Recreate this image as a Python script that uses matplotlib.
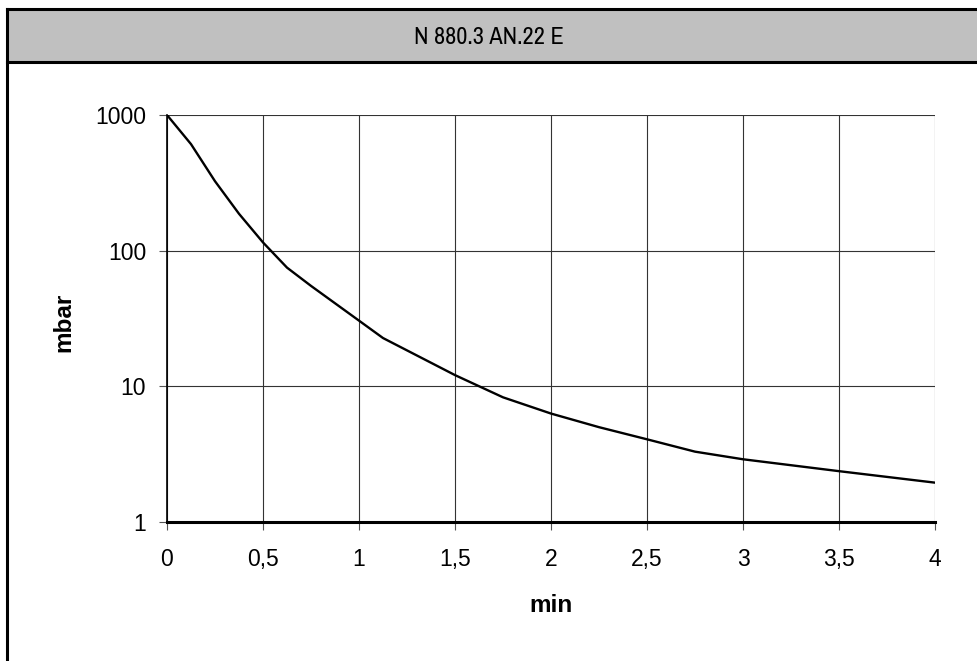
import matplotlib
matplotlib.use("Agg")
import matplotlib.pyplot as plt
from matplotlib.patches import Rectangle
from matplotlib.lines import Line2D
from matplotlib.ticker import FixedLocator, FixedFormatter, NullLocator

# pump-down curve
t_min = [0, 0.125, 0.25, 0.375, 0.5, 0.625, 0.75, 1.0, 1.125, 1.5, 1.75, 2.0, 2.25, 2.5, 2.75, 3.0, 3.5, 4.0]
p_mbar = [1000, 610, 325, 187, 115, 75, 55, 30.5, 22.7, 12.1, 8.3, 6.3, 5.0, 4.07, 3.3, 2.9, 2.37, 1.95]

xticks = [0, 0.5, 1, 1.5, 2, 2.5, 3, 3.5, 4]
xlabels = ["0", "0,5", "1", "1,5", "2", "2,5", "3", "3,5", "4"]
yticks = [1, 10, 100, 1000]
ylabels = ["1", "10", "100", "1000"]

title = "N 880.3 AN.22 E"

plt.rcParams['font.family'] = ['Liberation Sans', 'DejaVu Sans']

W, H = 978, 661
fig = plt.figure(figsize=(W / 100, H / 100), dpi=100)

# header band and frame
fig.patches.append(Rectangle((7 / W, 1 - 62 / H), 1, 52 / H, transform=fig.transFigure,
                             facecolor='#c0c0c0', edgecolor='none', zorder=0))
for xs, ys in [((7, 978), (9, 9)), ((7, 978), (62, 62)), ((7, 7), (9, 661))]:
    fig.lines.append(Line2D([v / W for v in xs], [1 - v / H for v in ys],
                            transform=fig.transFigure, color='black', lw=2.2))
fig.text(489 / W, 1 - 37 / H, title, ha='center', va='center', fontsize=17.5,
         family=['Archivo Narrow', 'Liberation Sans'])

ax = fig.add_axes([167 / W, 1 - 522 / H, (935 - 167) / W, (522 - 115) / H])
ax.plot(t_min, p_mbar, color='black', lw=1.7, zorder=3)
ax.set_yscale('log')
ax.set_xlim(0, 4)
ax.set_ylim(1, 1000)

ax.xaxis.set_major_locator(FixedLocator(xticks))
ax.xaxis.set_major_formatter(FixedFormatter(xlabels))
ax.yaxis.set_major_locator(FixedLocator(yticks))
ax.yaxis.set_major_formatter(FixedFormatter(ylabels))
ax.yaxis.set_minor_locator(NullLocator())

ax.grid(True, color='#333333', lw=0.8)
ax.set_axisbelow(True)
for s in ['top', 'right']:
    ax.spines[s].set_visible(False)
ax.spines['left'].set_linewidth(1.2)
ax.spines['bottom'].set_linewidth(2.2)
ax.tick_params(axis='both', direction='out', length=6, width=0.8, color='#555555',
               labelsize=16.5)
ax.tick_params(axis='x', pad=13)
ax.tick_params(axis='y', pad=9)

ax.set_xlabel("min", fontsize=17.5, fontweight='bold', va='center')
ax.set_ylabel("mbar", fontsize=17.5, fontweight='bold', va='center')
ax.xaxis.set_label_coords(0.5, (522 - 606) / 407)
ax.yaxis.set_label_coords((64 - 167) / 768, 0.49)

fig.savefig("out.png", dpi=100)
